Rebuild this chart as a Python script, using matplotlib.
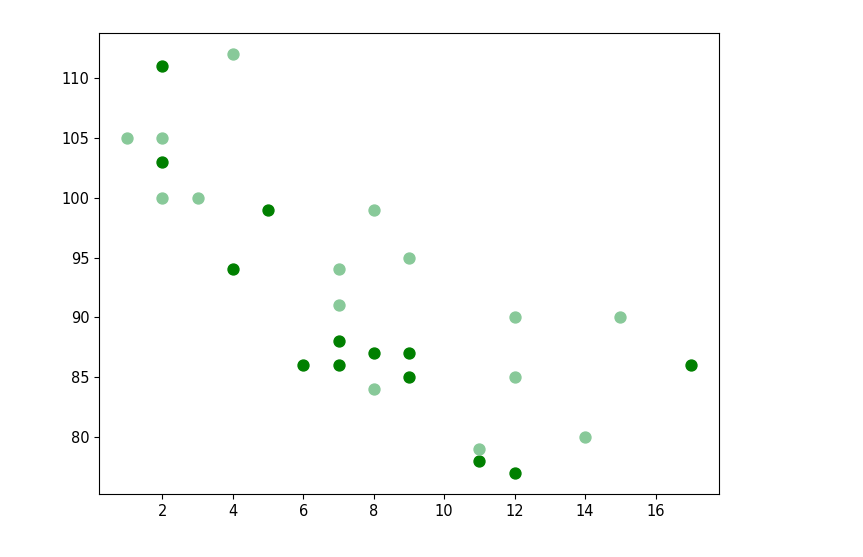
import matplotlib
matplotlib.use("Agg")
import matplotlib.pyplot as plt

x1 = [5, 7, 8, 7, 2, 17, 2, 9, 4, 11, 12, 9, 6]
y1 = [99, 86, 87, 88, 111, 86, 103, 87, 94, 78, 77, 85, 86]
x2 = [2, 2, 8, 1, 15, 8, 12, 9, 7, 3, 11, 4, 7, 14, 12]
y2 = [100, 105, 84, 105, 90, 99, 90, 95, 94, 100, 79, 112, 91, 80, 85]

W, H = 863, 557
fig = plt.figure(figsize=(W / 100, H / 100), dpi=100)
ax = fig.add_axes([99 / W, (H - 494) / H, (719 - 99) / W, (494 - 33) / H])
ax.scatter(x1, y1, color="green", s=62)
ax.scatter(x2, y2, color="#88c999", s=62)
ax.tick_params(labelsize=10.5)
fig.savefig("out.png", dpi=100)
